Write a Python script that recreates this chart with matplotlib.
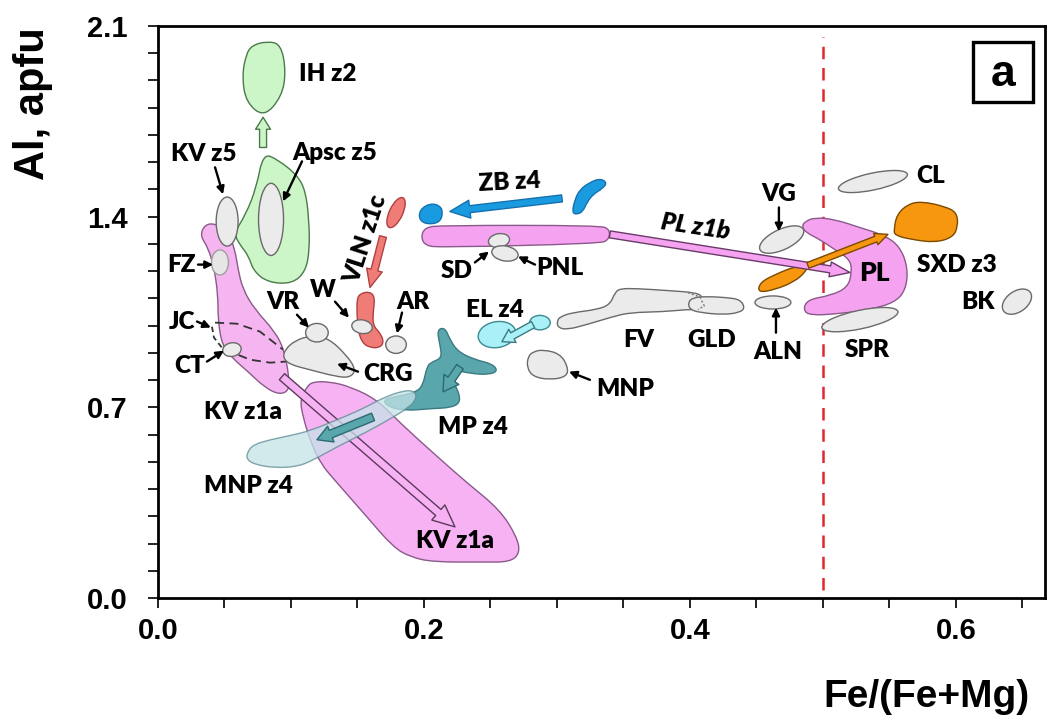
import numpy as np
import matplotlib
matplotlib.use("Agg")
import matplotlib.pyplot as plt
from matplotlib.path import Path
from matplotlib.patches import PathPatch, Ellipse, FancyArrowPatch, Rectangle, ArrowStyle
from matplotlib.transforms import Affine2D
from matplotlib.ticker import MultipleLocator, FixedLocator

# ---------------- data (Fe/(Fe+Mg), Al apfu) ----------------
IH_Z2_X = [0.0707, 0.082, 0.0925, 0.0962, 0.0932, 0.0797, 0.0662, 0.0632, 0.0662]
IH_Z2_Y = [2.029, 2.044, 2.033, 1.934, 1.842, 1.765, 1.820, 1.915, 1.996]

APSC_Z5_X = [0.079, 0.090, 0.105, 0.111, 0.1135, 0.114, 0.111, 0.101, 0.083, 0.072, 0.068, 0.062, 0.057, 0.066, 0.074]
APSC_Z5_Y = [1.632, 1.610, 1.551, 1.493, 1.390, 1.279, 1.199, 1.154, 1.158, 1.199, 1.257, 1.294, 1.338, 1.408, 1.507]

KV_Z1A_UP_X = [0.0353, 0.0429, 0.0526, 0.0579, 0.0602, 0.0639, 0.0729, 0.088, 0.0947, 0.0977, 0.0992,
               0.0917, 0.0805, 0.0677, 0.0556, 0.0481, 0.0451, 0.0451, 0.0421, 0.0376, 0.0316]
KV_Z1A_UP_Y = [1.371, 1.375, 1.346, 1.279, 1.206, 1.132, 1.059, 0.978, 0.912, 0.838, 0.765,
               0.746, 0.772, 0.831, 0.882, 0.930, 1.022, 1.114, 1.213, 1.287, 1.331]

KV_Z1A_LOW_X = [0.1068, 0.112, 0.1165, 0.1293, 0.1444, 0.1647, 0.182, 0.2068, 0.2323, 0.2571, 0.2699,
                0.2722, 0.2647, 0.2444, 0.2068, 0.1895, 0.1767, 0.1571, 0.1346, 0.1218, 0.1143, 0.109]
KV_Z1A_LOW_Y = [0.728, 0.776, 0.794, 0.794, 0.776, 0.728, 0.643, 0.533, 0.423, 0.324, 0.224,
                0.165, 0.132, 0.132, 0.132, 0.151, 0.1875, 0.298, 0.423, 0.496, 0.581, 0.665]

JC_UP_X = [0.0429, 0.0594, 0.0767, 0.094]
JC_UP_Y = [1.011, 1.007, 0.978, 0.912]
JC_LOW_X = [0.0504, 0.0692, 0.0842, 0.0962]
JC_LOW_Y = [0.912, 0.875, 0.864, 0.868]
JC_LEFT_X = [0.0406, 0.0421, 0.0481]
JC_LEFT_Y = [0.996, 0.956, 0.919]

CRG_X = [0.0955, 0.103, 0.1143, 0.1278, 0.1421, 0.1489, 0.1444, 0.1338, 0.1143, 0.0992, 0.094]
CRG_Y = [0.912, 0.945, 0.963, 0.956, 0.890, 0.838, 0.809, 0.813, 0.838, 0.857, 0.882]

VLN_LOW_X = [0.1519, 0.1594, 0.1632, 0.1617, 0.1617, 0.1669, 0.1699, 0.1669, 0.1594, 0.1534, 0.1504, 0.1496, 0.1496]
VLN_LOW_Y = [1.118, 1.125, 1.103, 1.048, 1.0, 0.974, 0.941, 0.919, 0.919, 0.9375, 0.985, 1.048, 1.096]

ZB_LEFT_X = [0.197, 0.2045, 0.212, 0.2143, 0.212, 0.2023, 0.1962]
ZB_LEFT_Y = [1.426, 1.449, 1.441, 1.415, 1.379, 1.371, 1.390]
ZB_RIGHT_X = [0.3113, 0.3135, 0.3173, 0.3248, 0.3323, 0.3376, 0.3346, 0.3271, 0.3226, 0.3195, 0.315]
ZB_RIGHT_Y = [1.415, 1.463, 1.500, 1.526, 1.540, 1.526, 1.504, 1.482, 1.452, 1.419, 1.408]

PL_Z1B_X = [0.2008, 0.212, 0.3323, 0.3398, 0.3391, 0.3323, 0.212, 0.2008, 0.1977]
PL_Z1B_Y = [1.360, 1.368, 1.368, 1.353, 1.316, 1.301, 1.287, 1.294, 1.327]

PL_X = [0.4865, 0.494, 0.509, 0.5278, 0.5466, 0.5579, 0.5639, 0.5624, 0.5541, 0.5353, 0.5128, 0.4902,
        0.485, 0.4887, 0.5053, 0.5188, 0.5218, 0.5203, 0.509, 0.4977, 0.4872, 0.4842]
PL_Y = [1.382, 1.397, 1.390, 1.360, 1.331, 1.290, 1.213, 1.132, 1.085, 1.059, 1.044, 1.037,
        1.059, 1.096, 1.110, 1.140, 1.199, 1.243, 1.279, 1.316, 1.342, 1.364]

SXD_LOW_X = [0.4511, 0.4526, 0.4639, 0.4789, 0.4887, 0.4872, 0.4789, 0.4639]
SXD_LOW_Y = [1.121, 1.158, 1.1875, 1.217, 1.221, 1.199, 1.162, 1.132]
SXD_UP_X = [0.5534, 0.5556, 0.5639, 0.5744, 0.5917, 0.6008, 0.6015, 0.5977, 0.5842, 0.5669, 0.5541]
SXD_UP_Y = [1.353, 1.408, 1.446, 1.456, 1.4375, 1.415, 1.364, 1.324, 1.305, 1.316, 1.331]

GLD_X = [0.3985, 0.4023, 0.4128, 0.4278, 0.4376, 0.4414, 0.4376, 0.4248, 0.4075, 0.4]
GLD_Y = [1.085, 1.103, 1.107, 1.103, 1.096, 1.066, 1.048, 1.040, 1.048, 1.059]

FV_X = [0.300, 0.3023, 0.312, 0.3301, 0.3398, 0.3436, 0.3474, 0.3602, 0.3827, 0.4053, 0.4098, 0.4113,
        0.4053, 0.3977, 0.3797, 0.3549, 0.3421, 0.3226, 0.3075, 0.3008]
FV_Y = [1.015, 1.033, 1.048, 1.059, 1.077, 1.121, 1.136, 1.136, 1.129, 1.121, 1.103, 1.070,
        1.059, 1.059, 1.051, 1.048, 1.033, 1.004, 0.985, 0.993]
FV_HIDDEN_X = [0.3985, 0.4075, 0.4108, 0.4060]
FV_HIDDEN_Y = [1.121, 1.105, 1.072, 1.059]

MNP_X = [0.2782, 0.282, 0.2895, 0.3023, 0.3083, 0.3075, 0.2947, 0.282, 0.2774]
MNP_Y = [0.886, 0.904, 0.912, 0.897, 0.849, 0.8125, 0.801, 0.8125, 0.846]

MP_Z4_X = [0.2098, 0.2158, 0.2195, 0.2256, 0.2383, 0.2511, 0.2556, 0.2496, 0.2346, 0.2233, 0.2195,
           0.2248, 0.2278, 0.2211, 0.2045, 0.1857, 0.1729, 0.1692, 0.1782, 0.1932, 0.1992, 0.2023,
           0.2068, 0.2135, 0.2120]
MP_Z4_Y = [0.985, 0.993, 0.949, 0.904, 0.875, 0.860, 0.835, 0.820, 0.824, 0.838, 0.809,
           0.772, 0.721, 0.699, 0.695, 0.6875, 0.702, 0.728, 0.739, 0.754, 0.779, 0.853,
           0.868, 0.882, 0.930]

MNP_Z4_X = [0.0669, 0.0714, 0.0842, 0.0992, 0.1143, 0.1346, 0.1541, 0.1692, 0.1842, 0.1925, 0.1947,
            0.1887, 0.1722, 0.1571, 0.1346, 0.1158, 0.1045, 0.0880, 0.0737, 0.0669]
MNP_Z4_Y = [0.533, 0.5625, 0.581, 0.596, 0.614, 0.654, 0.695, 0.735, 0.761, 0.761, 0.735,
            0.699, 0.651, 0.610, 0.555, 0.504, 0.482, 0.478, 0.489, 0.507]

# ellipses: name, x, y, width (x units), height (y units), angle (deg on screen)
ELLIPSES_GREY = [
    ("Apsc", 0.085, 1.390, 0.0188, 0.265, 0),
    ("KV z5", 0.052, 1.382, 0.0165, 0.180, 0),
    ("CT", 0.0556, 0.912, 0.0140, 0.050, 10),
    ("VR", 0.1195, 0.974, 0.0170, 0.068, 0),
    ("W", 0.1534, 0.996, 0.0155, 0.050, -10),
    ("AR", 0.1790, 0.930, 0.0155, 0.064, 0),
    ("SD", 0.2564, 1.3125, 0.0160, 0.050, 10),
    ("PNL", 0.2609, 1.265, 0.0200, 0.055, -10),
    ("VG", 0.4690, 1.316, 0.0360, 0.075, 25),
    ("CL", 0.5376, 1.529, 0.0530, 0.062, 12),
    ("ALN", 0.4624, 1.085, 0.0270, 0.048, 0),
    ("SPR", 0.5278, 1.022, 0.0585, 0.068, 12),
    ("BK", 0.6459, 1.088, 0.0245, 0.0760, 35),
]
ELLIPSE_FZ = (0.0466, 1.232, 0.0128, 0.092, 0)
ELLIPSE_VLN_UP = (0.179, 1.415, 0.0100, 0.120, -25)
ELLIPSES_EL = [(0.2549, 0.967, 0.0285, 0.095, 10), (0.2872, 1.011, 0.0155, 0.053, 0)]

# block arrows: start, end, tail width px, head width px, head length px, face, edge
BLOCK_ARROWS = [
    ((0.0932, 0.8125), (0.2233, 0.261), 8, 20, 22, "#f7b2f4", "#5a3a5a"),   # KV z1a
    ((0.079, 1.654), (0.079, 1.765), 7, 15, 12, "#ccf5c8", "#4a7a4a"),      # Apsc -> IH
    ((0.1692, 1.327), (0.1594, 1.140), 7, 16, 18, "#f07c78", "#b04040"),    # VLN z1c
    ((0.3038, 1.467), (0.2195, 1.419), 7, 18, 20, "#1a9be0", "#1570b0"),    # ZB z4
    ((0.3398, 1.335), (0.5203, 1.195), 7, 15, 20, "#f5a3f0", "#6a3a6a"),    # PL z1b
    ((0.4887, 1.221), (0.5489, 1.335), 6, 12, 13, "#f7960f", "#7a4a00"),    # SXD z3
    ((0.2820, 1.004), (0.2586, 0.941), 7, 15, 12, "#aaf0f8", "#3a7a80"),    # EL z4
]
BLOCK_ARROWS_TOP = [
    ((0.1617, 0.665), (0.1195, 0.581), 8, 17, 15, "#5aa6ad", "#2a6a70"),    # MNP z4
    ((0.2271, 0.849), (0.2143, 0.757), 8, 18, 15, "#5aa6ad", "#2a6a70"),    # MP z4
]

# labels: text, x, y, rotation, size
LABELS = [
    ("IH z2", 0.1278, 1.923, 0, 17.5), ("KV z5", 0.0346, 1.629, 0, 17.5), ("Apsc z5", 0.1331, 1.632, 0, 17.5),
    ("FZ", 0.0173, 1.221, 0, 17.5), ("JC", 0.018, 1.015, 0, 17.5), ("CT", 0.0241, 0.853, 0, 17.5),
    ("VR", 0.094, 1.085, 0, 17.5), ("W", 0.124, 1.129, 0, 17.5), ("AR", 0.1917, 1.088, 0, 17.5),
    ("CRG", 0.1729, 0.824, 0, 17.5), ("VLN z1c", 0.1564, 1.316, 72, 17.5), ("ZB z4", 0.2647, 1.526, 3, 17.5),
    ("SD", 0.2248, 1.199, 0, 17.5), ("PNL", 0.3023, 1.210, 0, 17.5), ("EL z4", 0.2534, 1.059, 0, 17.5),
    ("FV", 0.3617, 0.949, 0, 17.5), ("GLD", 0.4165, 0.949, 0, 17.5), ("ALN", 0.4662, 0.904, 0, 17.5),
    ("MNP", 0.3511, 0.768, 0, 17.5), ("MP z4", 0.2368, 0.629, 0, 17.5), ("KV z1a", 0.0639, 0.684, 0, 17.5),
    ("MNP z4", 0.0677, 0.412, 0, 17.5), ("KV z1a", 0.2233, 0.2096, 0, 17.5), ("VG", 0.4669, 1.485, 0, 17.5),
    ("CL", 0.5812, 1.548, 0, 17.5), ("PL", 0.5391, 1.195, 0, 19), ("SXD z3", 0.6008, 1.221, 0, 17.5),
    ("BK", 0.6165, 1.088, 0, 17.5), ("SPR", 0.5331, 0.912, 0, 17.5),
]
LABEL_ITALIC = ("PL z1b", 0.4038, 1.364, -8.5, 17.5)

# pointer arrows: from, to
POINTERS = [
    ((0.0429, 1.581), (0.0489, 1.482)), ((0.1083, 1.603), (0.0940, 1.456)),
    ((0.0301, 1.224), (0.0414, 1.224)), ((0.0293, 1.015), (0.0398, 0.993)),
    ((0.0368, 0.868), (0.0496, 0.908)), ((0.1045, 1.040), (0.1135, 0.993)),
    ((0.1331, 1.088), (0.1436, 1.029)), ((0.1835, 1.048), (0.1797, 0.971)),
    ((0.1504, 0.831), (0.1346, 0.860)), ((0.2383, 1.232), (0.2489, 1.272)),
    ((0.2835, 1.224), (0.2707, 1.254)), ((0.4647, 0.974), (0.4647, 1.066)),
    ((0.3248, 0.801), (0.3090, 0.831)), ((0.4669, 1.434), (0.4669, 1.346)),
]

X_MAJOR = [0.0, 0.2, 0.4, 0.6]
Y_MAJOR = [0.0, 0.7, 1.4, 2.1]
BOUNDARY_X = 0.5

# ---------------- drawing ----------------
fig = plt.figure(figsize=(10.49, 7.26), dpi=100)
ax = fig.add_axes([158 / 1049, 128 / 726, 887 / 1049, 572 / 726])
XLIM = (0.0, 0.667)
YLIM = (0.0, 2.1)
ax.set_xlim(*XLIM)
ax.set_ylim(*YLIM)

ax_w_px = 887.0
ax_h_px = 572.0
r = (ax_h_px / (YLIM[1] - YLIM[0])) / (ax_w_px / (XLIM[1] - XLIM[0]))
iso = Affine2D().scale(1.0, 1.0 / r) + ax.transData

LABEL_FONT = ["Lato", "DejaVu Sans"]
LABEL_WEIGHT = "heavy"


def blob(xs, ys, fc, ec, lw=1.0, z=2, alpha=1.0, ls="-"):
    pts = np.column_stack([xs, ys])
    mids = (pts + np.roll(pts, -1, axis=0)) / 2.0
    verts = [mids[-1]]
    codes = [Path.MOVETO]
    for i in range(len(pts)):
        verts += [pts[i], mids[i]]
        codes += [Path.CURVE3, Path.CURVE3]
    verts.append(mids[-1])
    codes.append(Path.CLOSEPOLY)
    p = PathPatch(Path(verts, codes), facecolor=fc, edgecolor=ec, lw=lw, zorder=z, alpha=alpha, ls=ls)
    ax.add_patch(p)


def ell(spec, fc, ec, lw=1.0, z=4):
    cx, cy, w, h, ang = spec
    e = Ellipse((cx, cy * r), w, h * r, angle=ang, transform=iso, facecolor=fc, edgecolor=ec, lw=lw, zorder=z)
    ax.add_patch(e)


def block_arrow(spec, z=5):
    (x0, y0), (x1, y1), tw, hw, hl, fc, ec = spec
    st = ArrowStyle("simple", head_length=hl, head_width=hw, tail_width=tw)
    a = FancyArrowPatch((x0, y0), (x1, y1), arrowstyle=st, mutation_scale=0.72,
                        facecolor=fc, edgecolor=ec, lw=1.0, shrinkA=0, shrinkB=0, zorder=z)
    ax.add_patch(a)


GREEN, GREEN_E = "#ccf5c8", "#4a7a4a"
PINK, PINK_E = "#f7b2f4", "#8a5a8a"
GREY, GREY_E = "#ebebeb", "#6a6a6a"

# pink fields
blob(KV_Z1A_LOW_X, KV_Z1A_LOW_Y, PINK, PINK_E, z=1)
blob(KV_Z1A_UP_X, KV_Z1A_UP_Y, "#f5b5f0", PINK_E, z=1.2)
block_arrow(BLOCK_ARROWS[0], z=1.5)
ax.plot(JC_UP_X, JC_UP_Y, color="#333333", lw=1.3, ls=(0, (5, 3)), zorder=1.6)
ax.plot(JC_LOW_X, JC_LOW_Y, color="#333333", lw=1.3, ls=(0, (5, 3)), zorder=1.6)
ax.plot(JC_LEFT_X, JC_LEFT_Y, color="#333333", lw=1.3, ls=(0, (3, 2)), zorder=1.6)

# green fields
blob(IH_Z2_X, IH_Z2_Y, GREEN, GREEN_E, z=2)
blob(APSC_Z5_X, APSC_Z5_Y, GREEN, GREEN_E, z=2)

# teal fields
blob(MP_Z4_X, MP_Z4_Y, "#5aa6ad", "#3a7a80", z=2)
blob(MNP_Z4_X, MNP_Z4_Y, "#c5e3e8", "#5a8a90", z=2.5, alpha=0.75)

# grey fields
blob(CRG_X, CRG_Y, GREY, GREY_E, z=3)
blob(FV_X, FV_Y, GREY, GREY_E, z=3)
blob(GLD_X, GLD_Y, GREY, GREY_E, z=3.1)
ax.plot(FV_HIDDEN_X, FV_HIDDEN_Y, color="#777777", lw=1.0, ls=(0, (1.5, 1.5)), zorder=3.2)
blob(MNP_X, MNP_Y, GREY, GREY_E, z=3)

# red, blue, pink, orange
blob(VLN_LOW_X, VLN_LOW_Y, "#f07c78", "#b04040", z=3)
ell(ELLIPSE_VLN_UP, "#f07c78", "#b04040", z=3)
blob(ZB_LEFT_X, ZB_LEFT_Y, "#1a9be0", "#1570b0", z=3)
blob(ZB_RIGHT_X, ZB_RIGHT_Y, "#1a9be0", "#1570b0", z=3)
blob(PL_Z1B_X, PL_Z1B_Y, "#f5a3f0", "#8a5a8a", z=3)
blob(PL_X, PL_Y, "#f5a3f0", "#8a5a8a", z=3)
blob(SXD_LOW_X, SXD_LOW_Y, "#f7960f", "#7a4a00", z=3.2)
blob(SXD_UP_X, SXD_UP_Y, "#f7960f", "#7a4a00", z=3.2)

for name, cx, cy, w, h, ang in ELLIPSES_GREY:
    ell((cx, cy, w, h, ang), GREY, GREY_E, z=4)
ell(ELLIPSE_FZ, "#e6e6e6", "#a0a0a0", z=4)
for spec in ELLIPSES_EL:
    ell(spec, "#aaf0f8", "#3a8a90", z=4)

for spec in BLOCK_ARROWS[1:]:
    block_arrow(spec, z=5)
for spec in BLOCK_ARROWS_TOP:
    block_arrow(spec, z=5)

# boundary line
ax.plot([BOUNDARY_X, BOUNDARY_X], [0.03, 2.06], color="#e3262d", lw=1.8, ls=(0, (5, 3.5)), zorder=2.8)

# pointers
for (p0, p1) in POINTERS:
    ax.annotate("", xy=p1, xytext=p0,
                arrowprops=dict(arrowstyle="-|>", color="black", lw=1.7, mutation_scale=11,
                                shrinkA=0, shrinkB=0), zorder=6)

# labels
for txt, x, y, rot, sz in LABELS:
    ax.text(x, y, txt, ha="center", va="center", rotation=rot, fontsize=sz,
            fontweight=LABEL_WEIGHT, family=LABEL_FONT, zorder=7)
txt, x, y, rot, sz = LABEL_ITALIC
ax.text(x, y, txt, ha="center", va="center", rotation=rot, fontsize=sz, fontweight=LABEL_WEIGHT,
        fontstyle="italic", family=LABEL_FONT, zorder=7)

# panel tag
ax.add_patch(Rectangle((0.9188, 0.867), 0.0677, 0.105, transform=ax.transAxes, fill=False,
                       lw=2.4, edgecolor="black", zorder=8))
ax.text(0.9526, 0.915, "a", transform=ax.transAxes, ha="center", va="center",
        fontsize=32, fontweight="bold", family=["Liberation Sans", "DejaVu Sans"], zorder=8)

# axes styling
ax.xaxis.set_major_locator(FixedLocator(X_MAJOR))
ax.xaxis.set_minor_locator(MultipleLocator(0.05))
ax.yaxis.set_major_locator(FixedLocator(Y_MAJOR))
ax.yaxis.set_minor_locator(MultipleLocator(0.1))
ax.set_xticklabels([f"{v:.1f}" for v in X_MAJOR])
ax.set_yticklabels([f"{v:.1f}" for v in Y_MAJOR])
ax.tick_params(which="both", direction="out", length=7, width=1.4, color="#222222")
ax.tick_params(axis="x", which="major", pad=7)
ax.tick_params(axis="y", which="major", pad=15)
for lab in ax.get_xticklabels() + ax.get_yticklabels():
    lab.set_fontsize(21)
    lab.set_fontweight("bold")
    lab.set_family(["Liberation Sans", "DejaVu Sans"])
for sp in ax.spines.values():
    sp.set_linewidth(2.0)

ax.set_ylabel("Al, apfu", fontsize=30, fontweight="bold", family=["Liberation Sans", "DejaVu Sans"])
ax.yaxis.set_label_coords(-0.141, 0.865)
ax.yaxis.label.set_va("center")
ax.set_xlabel("Fe/(Fe+Mg)", fontsize=28, fontweight="bold", family=["Liberation Sans", "DejaVu Sans"])
ax.xaxis.set_label_coords(0.866, -0.173)
ax.xaxis.label.set_va("center")

fig.savefig("out.png", dpi=100)
